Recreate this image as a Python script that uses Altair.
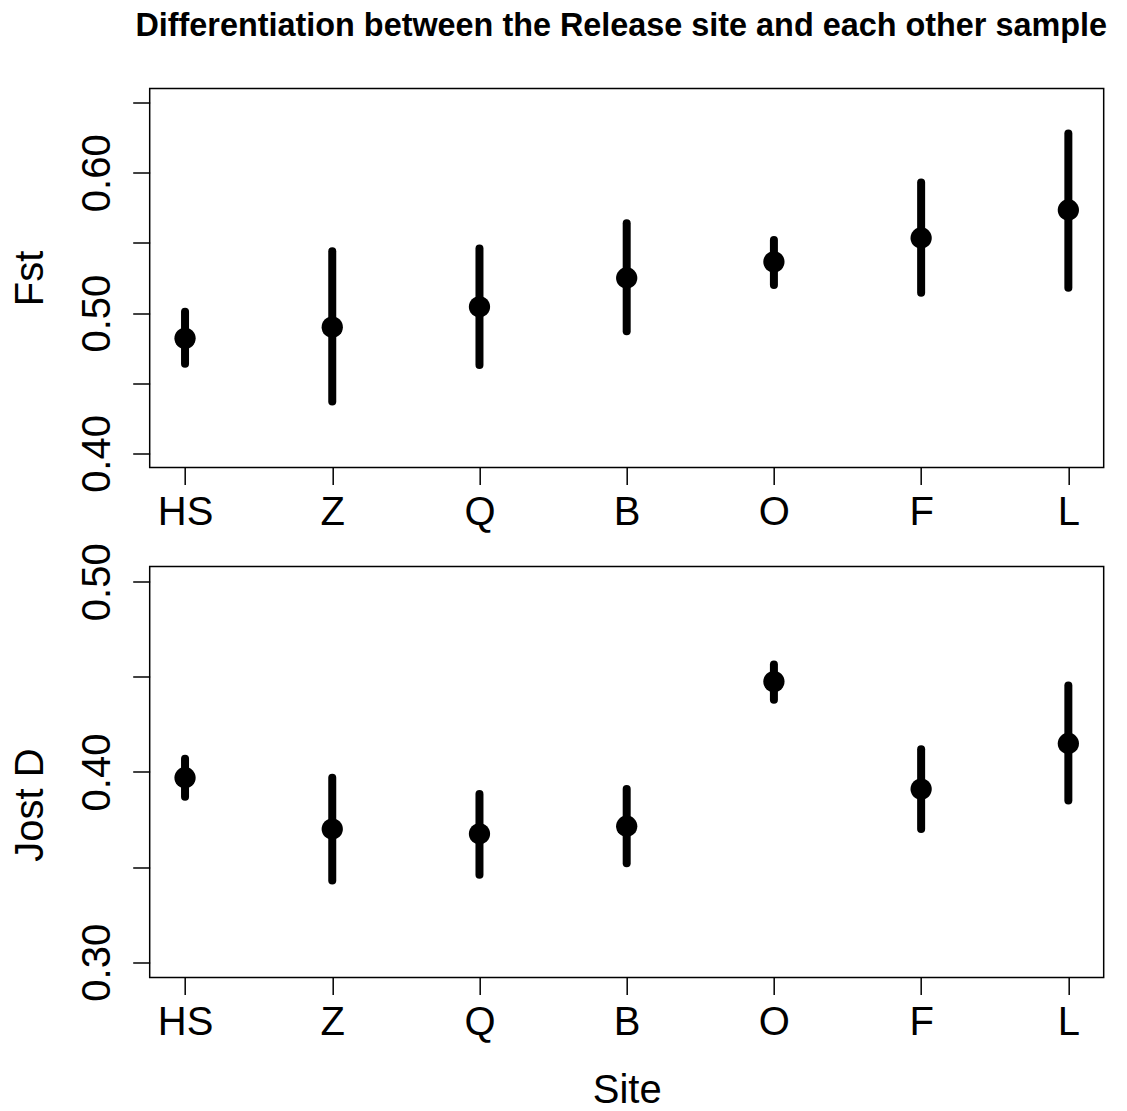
import altair as alt
import pandas as pd

sites = ["HS", "Z", "Q", "B", "O", "F", "L"]
site_idx = [1, 2, 3, 4, 5, 6, 7]

fst = [0.482, 0.490, 0.5045, 0.525, 0.5365, 0.5535, 0.5735]
fst_lo = [0.464, 0.437, 0.463, 0.487, 0.520, 0.5145, 0.518]
fst_hi = [0.501, 0.544, 0.546, 0.564, 0.552, 0.593, 0.628]

jost = [0.397, 0.370, 0.3675, 0.3715, 0.4475, 0.391, 0.415]
jost_lo = [0.387, 0.343, 0.346, 0.352, 0.438, 0.370, 0.385]
jost_hi = [0.407, 0.397, 0.3885, 0.391, 0.4565, 0.412, 0.4455]

fst_ticks = [0.40, 0.45, 0.50, 0.55, 0.60, 0.65]
jost_ticks = [0.30, 0.35, 0.40, 0.45, 0.50]

FONT = "Liberation Sans"
W = 954

df_f = pd.DataFrame({"idx": site_idx, "site": sites, "val": fst, "lo": fst_lo, "hi": fst_hi})
df_j = pd.DataFrame({"idx": site_idx, "site": sites, "val": jost, "lo": jost_lo, "hi": jost_hi})

y_label_expr = "round(datum.value*100) % 10 == 0 ? format(datum.value, '.2f') : ''"
x_label_expr = "[" + ",".join("'%s'" % s for s in sites) + "][round(datum.value) - 1]"


def panel(df, domain, ticks, ytitle, height, title_y, xtitle):
    xkw = dict(
        values=site_idx, labelExpr=x_label_expr,
        labelFont=FONT, labelFontSize=40, labelColor="black", labelAngle=0,
        labelAlign="center", labelBaseline="alphabetic", labelPadding=40.2,
        labelOverlap=False, labelFlush=False, labelBound=False,
        tickSize=17, tickWidth=1.5, tickColor="black",
        domain=False, grid=False,
    )
    if xtitle:
        xaxis = alt.Axis(
            title=xtitle,
            titleFont=FONT, titleFontSize=40, titleFontWeight="normal", titleColor="black",
            titleBaseline="alphabetic", titleX=W / 2, titleY=125.4, titleAlign="center",
            **xkw,
        )
    else:
        xaxis = alt.Axis(title=None, **xkw)
    xscale = alt.Scale(domain=[0.76, 7.24], nice=False, zero=False)
    x = alt.X("idx:Q", scale=xscale, axis=xaxis)
    yaxis = alt.Axis(
        values=ticks, labelExpr=y_label_expr,
        labelFont=FONT, labelFontSize=40, labelColor="black", labelAngle=270,
        labelAlign="center", labelBaseline="alphabetic", labelPadding=23.5,
        labelOverlap=False, labelFlush=False, labelBound=False,
        tickSize=17, tickWidth=1.5, tickColor="black",
        domain=False, grid=False,
        title=ytitle, titleFont=FONT, titleFontSize=40, titleFontWeight="normal",
        titleColor="black", titleAngle=270, titleAlign="center",
        titleBaseline="alphabetic", titleX=-107, titleY=title_y,
    )
    yscale = alt.Scale(domain=domain, nice=False, zero=False)
    base = alt.Chart(df)
    bars = base.mark_rule(color="black", strokeWidth=8, strokeCap="round").encode(
        x=x,
        y=alt.Y("lo:Q", scale=yscale, axis=yaxis),
        y2="hi:Q",
    )
    pts = base.mark_point(filled=True, shape="circle", size=452, color="black", opacity=1).encode(
        x=x,
        y=alt.Y("val:Q", scale=yscale, axis=yaxis),
    )
    return alt.layer(bars, pts).properties(width=W, height=height)


top = panel(df_f, [0.39, 0.66], fst_ticks, "Fst", 379, 189.5, None)
bottom = panel(df_j, [0.292, 0.508], jost_ticks, "Jost D", 411, 238, "Site")

chart = alt.vconcat(top, bottom, spacing=99, bounds="flush").properties(
    title=alt.TitleParams(
        "Differentiation between the Release site and each other sample",
        font=FONT, fontSize=32.4, fontWeight="bold", color="black",
        anchor="middle", baseline="alphabetic", offset=19.3, dx=64,
    ),
    padding={"left": 1.7, "top": 1.5, "right": 6, "bottom": 0},
    background="white",
).configure_view(stroke="black", strokeWidth=1.5)

chart.save("out.html", embed_options={"renderer": "svg", "actions": False})
